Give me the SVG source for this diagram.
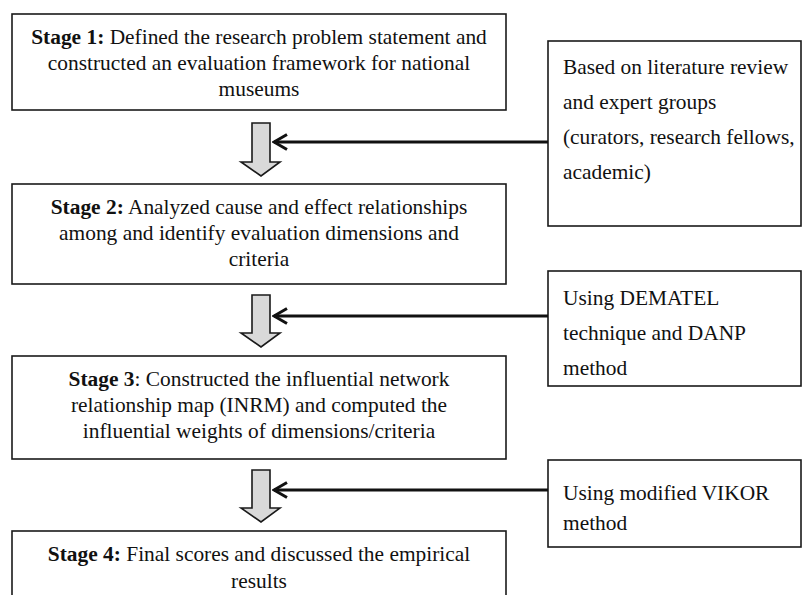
<svg xmlns="http://www.w3.org/2000/svg" width="803" height="595" viewBox="0 0 803 595">
  <style>
    .box { fill: #ffffff; stroke: #1a1a1a; stroke-width: 1.6; }
    .t { font-family: "Liberation Serif", "Times New Roman", serif; font-size: 21.4px; fill: #111; }
    .c { text-anchor: middle; }
    .b { font-weight: bold; }
    .down { fill: #d9d9d9; stroke: #1a1a1a; stroke-width: 1.6; stroke-linejoin: miter; }
    .conn { stroke: #111; stroke-width: 3; fill: none; }
  </style>
  <defs>
    <marker id="chev" viewBox="0 0 16 18" refX="14" refY="9" markerWidth="16" markerHeight="18" markerUnits="userSpaceOnUse" orient="auto">
      <path d="M1,1.5 L14,9 L1,16.5" fill="none" stroke="#111" stroke-width="3"/>
    </marker>
  </defs>
  <rect width="803" height="595" fill="#ffffff"/>

  <g id="stage1">
    <rect class="box" x="12" y="14" width="494" height="96"/>
    <text class="t c" x="259" y="44"><tspan class="b">Stage 1:</tspan> Defined the research problem statement and</text>
    <text class="t c" x="259" y="70">constructed an evaluation framework for national</text>
    <text class="t c" x="259" y="96">museums</text>
  </g>

  <g id="stage2">
    <rect class="box" x="12" y="184" width="494" height="100"/>
    <text class="t c" x="259" y="214"><tspan class="b">Stage 2:</tspan> Analyzed cause and effect relationships</text>
    <text class="t c" x="259" y="240">among and identify evaluation dimensions and</text>
    <text class="t c" x="259" y="266">criteria</text>
  </g>

  <g id="stage3">
    <rect class="box" x="12" y="356" width="494" height="103"/>
    <text class="t c" x="259" y="386"><tspan class="b">Stage 3</tspan>: Constructed the influential network</text>
    <text class="t c" x="259" y="412">relationship map (INRM) and computed the</text>
    <text class="t c" x="259" y="438">influential weights of dimensions/criteria</text>
  </g>

  <g id="stage4">
    <rect class="box" x="12" y="531" width="494" height="80"/>
    <text class="t c" x="259" y="561"><tspan class="b">Stage 4:</tspan> Final scores and discussed the empirical</text>
    <text class="t c" x="259" y="588">results</text>
  </g>

  <g id="note1">
    <rect class="box" x="548" y="41" width="253" height="185"/>
    <text class="t" x="563" y="74">Based on literature review</text>
    <text class="t" x="563" y="109">and expert groups</text>
    <text class="t" x="563" y="144">(curators, research fellows,</text>
    <text class="t" x="563" y="179">academic)</text>
  </g>

  <g id="note2">
    <rect class="box" x="548" y="271" width="253" height="115"/>
    <text class="t" x="563" y="305">Using DEMATEL</text>
    <text class="t" x="563" y="340">technique and DANP</text>
    <text class="t" x="563" y="375">method</text>
  </g>

  <g id="note3">
    <rect class="box" x="548" y="460" width="253" height="87"/>
    <text class="t" x="563" y="500">Using modified VIKOR</text>
    <text class="t" x="563" y="530">method</text>
  </g>

  <g id="flow-arrows">
    <path class="down" d="M252,123 H270 V162 H280 L261,176 L241,162 H252 Z"/>
    <path class="down" d="M252,295 H270 V333 H280 L261,347 L241,333 H252 Z"/>
    <path class="down" d="M252,470 H270 V508 H280 L261,522 L241,508 H252 Z"/>
  </g>

  <g id="connectors">
    <line class="conn" x1="548" y1="142" x2="274" y2="142" marker-end="url(#chev)"/>
    <line class="conn" x1="548" y1="316" x2="274" y2="316" marker-end="url(#chev)"/>
    <line class="conn" x1="548" y1="490" x2="274" y2="490" marker-end="url(#chev)"/>
  </g>
</svg>
